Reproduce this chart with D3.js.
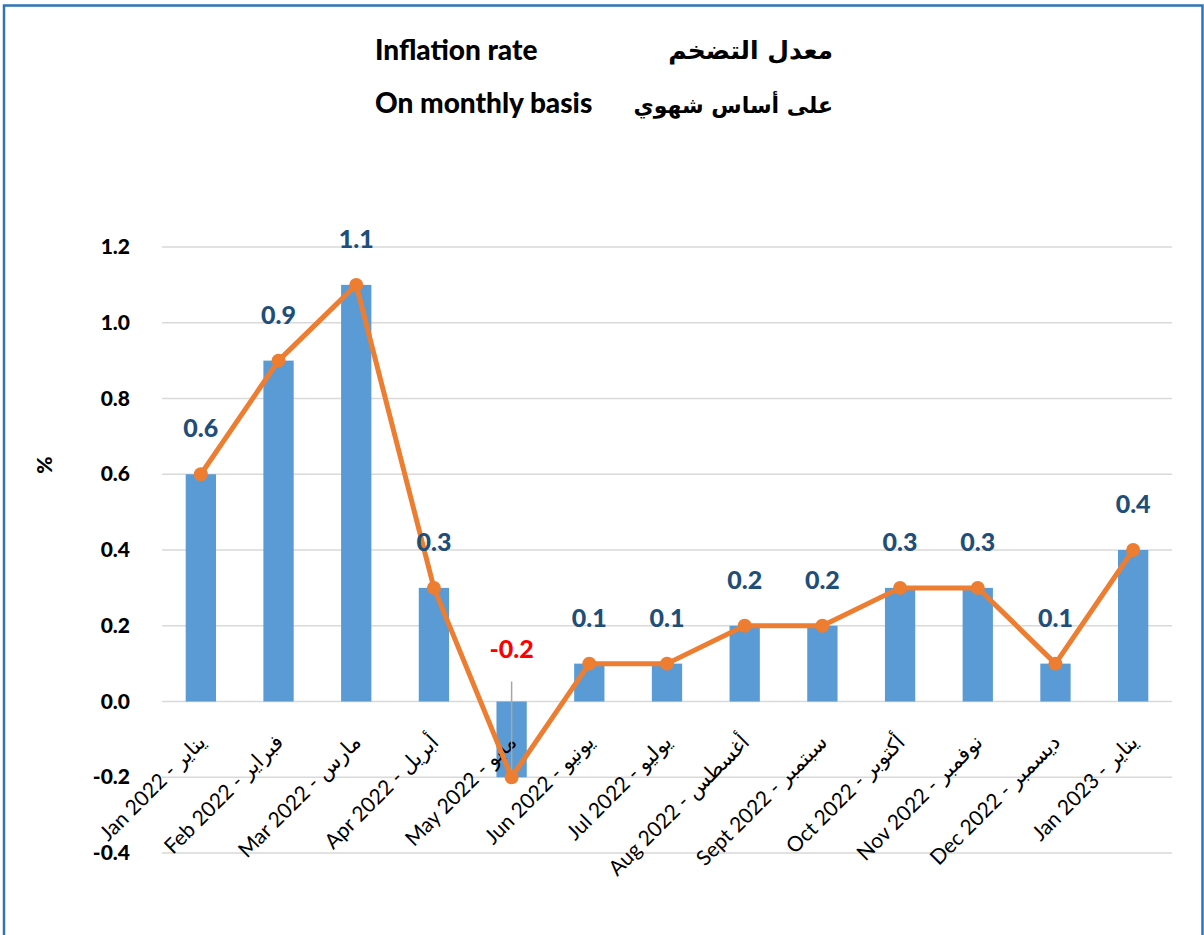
<!DOCTYPE html>
<html>
<head>
<meta charset="utf-8">
<script src="https://cdn.jsdelivr.net/npm/d3@7"></script>
<style>
  body { margin: 0; background: #fff; }
  svg { display: block; font-family: Lato, "Open Sans", sans-serif; }
</style>
</head>
<body>
<div id="chart"></div>
<script>
const months = ["Jan 2022 - يناير", "Feb 2022 - فبراير", "Mar 2022 - مارس", "Apr 2022 - أبريل",
  "May 2022 - مايو", "Jun 2022 - يونيو", "Jul 2022 - يوليو", "Aug 2022 - أغسطس",
  "Sept 2022 - سبتمبر", "Oct 2022 - أكتوبر", "Nov 2022 - نوفمبر", "Dec 2022 - ديسمبر", "Jan 2023 - يناير"];
const rates = [0.6, 0.9, 1.1, 0.3, -0.2, 0.1, 0.1, 0.2, 0.2, 0.3, 0.3, 0.1, 0.4];
const yTicks = [-0.4, -0.2, 0.0, 0.2, 0.4, 0.6, 0.8, 1.0, 1.2];

const W = 1204, H = 935;
const margin = { top: 247, right: 32, bottom: 82, left: 162 };
const width = W - margin.left - margin.right;
const height = H - margin.top - margin.bottom;

// hyphen instead of unicode minus, like the original
const fmt = d => d3.format(".1f")(d).replace("\u2212", "-");

const root = d3.select("#chart").append("svg")
  .attr("width", W)
  .attr("height", H);

// frame
root.append("path")
  .attr("d", `M4,${H} V5.5 H1202.5 V${H}`)
  .attr("fill", "none")
  .attr("stroke", "#2E75B6")
  .attr("stroke-width", 2.5);

// titles
const titles = root.append("g").style("font-weight", "900").style("font-size", "28px").attr("fill", "#000");
titles.append("text").attr("x", 375).attr("y", 60).text("Inflation rate");
titles.append("text").attr("x", 375).attr("y", 113).text("On monthly basis");
titles.append("text").attr("x", 833).attr("y", 59).attr("text-anchor", "end")
  .style("font-family", "'DejaVu Sans', sans-serif").style("font-weight", "bold").style("font-size", "25px").text("معدل التضخم");
titles.append("text").attr("x", 833).attr("y", 113).attr("text-anchor", "end")
  .style("font-family", "'DejaVu Sans', sans-serif").style("font-weight", "bold").style("font-size", "22px").text("على أساس شهوي");

const svg = root.append("g").attr("transform", `translate(${margin.left},${margin.top})`);

const x = d3.scaleBand().domain(months).range([0, width]).paddingInner(0.61).paddingOuter(0.305);
const y = d3.scaleLinear().domain([-0.4, 1.2]).range([height, 0]);

// gridlines
svg.append("g")
  .selectAll("line")
  .data(yTicks)
  .join("line")
  .attr("x1", 0).attr("x2", width)
  .attr("y1", d => y(d)).attr("y2", d => y(d))
  .attr("stroke", "#D9D9D9")
  .attr("stroke-width", 1.5);

// y axis labels
const yAxis = svg.append("g")
  .call(d3.axisLeft(y).tickValues(yTicks).tickFormat(fmt).tickSize(0).tickPadding(32));
yAxis.select(".domain").remove();
yAxis.selectAll("text")
  .style("font-family", "Lato, sans-serif")
  .style("font-size", "21px")
  .style("font-weight", "900")
  .attr("fill", "#000");

root.append("text")
  .attr("transform", `translate(52,465) rotate(-90)`)
  .attr("text-anchor", "middle")
  .style("font-size", "21px")
  .style("font-weight", "900")
  .text("%");

// bars
svg.append("g")
  .selectAll("rect")
  .data(rates)
  .join("rect")
  .attr("x", (d, i) => x(months[i]))
  .attr("y", d => y(Math.max(d, 0)))
  .attr("width", x.bandwidth())
  .attr("height", d => Math.abs(y(d) - y(0)))
  .attr("fill", "#5B9BD5");

// category labels
svg.append("g")
  .selectAll("text")
  .data(months)
  .join("text")
  .attr("transform", d => `translate(${x(d) + x.bandwidth() / 2 + 6},${y(0) + 42}) rotate(-45)`)
  .attr("text-anchor", "end")
  .attr("direction", "ltr")
  .style("font-family", "Lato, 'DejaVu Sans', sans-serif")
  .style("font-size", "21px")
  .attr("fill", "#000")
  .text(d => d);

// leader line for negative label
const cx = i => x(months[i]) + x.bandwidth() / 2;
rates.forEach((v, i) => {
  if (v < 0) {
    svg.append("line")
      .attr("x1", cx(i)).attr("x2", cx(i))
      .attr("y1", y(0) - 20).attr("y2", y(v))
      .attr("stroke", "#A6A6A6")
      .attr("stroke-width", 1.5);
  }
});

// line
const line = d3.line().x((d, i) => cx(i)).y(d => y(d));
svg.append("path")
  .datum(rates)
  .attr("d", line)
  .attr("fill", "none")
  .attr("stroke", "#ED7D31")
  .attr("stroke-width", 5)
  .attr("stroke-linejoin", "round");

svg.append("g")
  .selectAll("circle")
  .data(rates)
  .join("circle")
  .attr("cx", (d, i) => cx(i))
  .attr("cy", d => y(d))
  .attr("r", 7)
  .attr("fill", "#ED7D31");

// value labels
svg.append("g")
  .selectAll("text")
  .data(rates)
  .join("text")
  .attr("x", (d, i) => cx(i))
  .attr("y", d => d < 0 ? y(0) - 44 : y(d) - 37)
  .attr("text-anchor", "middle")
  .style("font-size", "25px")
  .style("font-weight", "900")
  .attr("fill", d => d < 0 ? "#FF0000" : "#1F4E79")
  .text(d => fmt(d));
</script>
</body>
</html>
